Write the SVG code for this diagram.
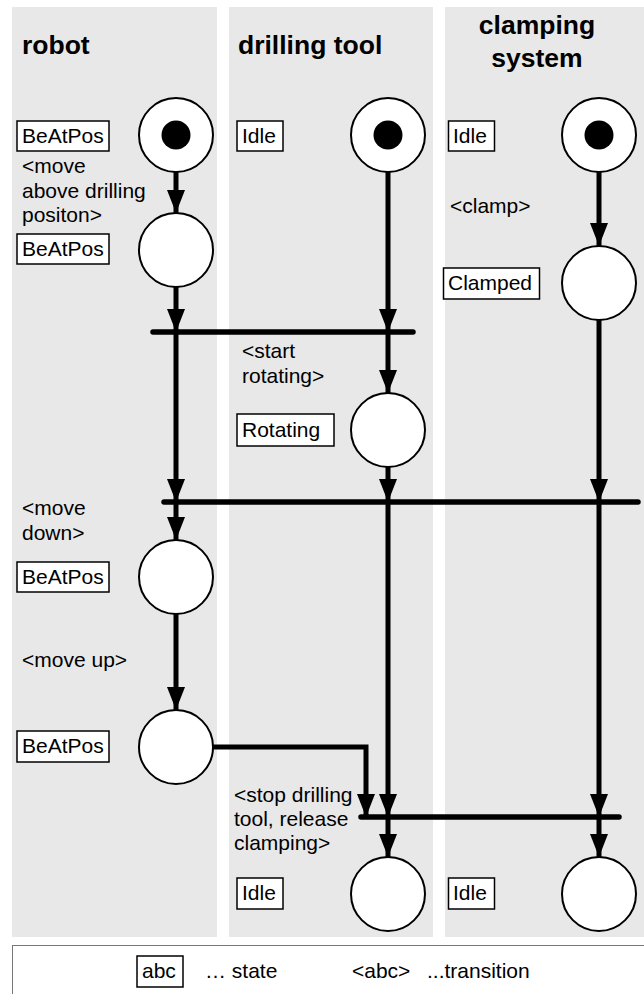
<svg xmlns="http://www.w3.org/2000/svg" width="644" height="994" viewBox="0 0 644 994">
  <style>
    .lane { fill: #e8e8e8; }
    .title { font-family: "Liberation Sans", Arial, sans-serif; font-weight: bold; font-size: 26.5px; fill: #000; }
    .lbl { font-family: "Liberation Sans", Arial, sans-serif; font-size: 21px; fill: #000; }
    .state { fill: #fff; stroke: #000; stroke-width: 1.5; }
    .place { fill: #fff; stroke: #000; stroke-width: 2; }
    .token { fill: #000; }
    .arc { fill: none; stroke: #000; stroke-width: 5; marker-end: url(#head); }
    .bar { stroke: #000; stroke-width: 5.5; stroke-linecap: round; }
  </style>
  <defs>
    <marker id="head" markerUnits="userSpaceOnUse" markerWidth="18" markerHeight="23" refX="9" refY="23" orient="0" viewBox="0 0 18 23">
      <path d="M0,0 L18,0 L9,23 Z" fill="#000"/>
    </marker>
  </defs>

  <rect width="644" height="994" fill="#fff"/>

  <!-- swim lanes -->
  <g id="lanes">
    <rect class="lane" x="12" y="7" width="205" height="930"/>
    <rect class="lane" x="229" y="7" width="204" height="930"/>
    <rect class="lane" x="445" y="7" width="199" height="930"/>
    <text class="title" x="22" y="54">robot</text>
    <text class="title" x="238" y="54">drilling tool</text>
    <text class="title" x="537" y="34" text-anchor="middle">clamping</text>
    <text class="title" x="537" y="67" text-anchor="middle">system</text>
  </g>

  <!-- connectors and synchronisation bars -->
  <g id="connectors">
    <line class="bar" x1="153" y1="332" x2="413" y2="332"/>
    <line class="bar" x1="164" y1="502" x2="638" y2="502"/>
    <line class="bar" x1="361" y1="817" x2="619" y2="817"/>

    <path class="arc" d="M176,172 V213"/>
    <path class="arc" d="M176,287 V332"/>
    <path class="arc" d="M388,172 V332"/>
    <path class="arc" d="M599,172 V246"/>
    <path class="arc" d="M176,332 V502"/>
    <path class="arc" d="M388,332 V393"/>
    <path class="arc" d="M388,467 V502"/>
    <path class="arc" d="M599,320 V502"/>
    <path class="arc" d="M176,502 V540"/>
    <path class="arc" d="M176,614 V710"/>
    <path class="arc" d="M388,502 V817"/>
    <path class="arc" d="M599,502 V817"/>
    <path class="arc" d="M213,747 H366 V817"/>
    <path class="arc" d="M388,817 V857"/>
    <path class="arc" d="M599,817 V857"/>
  </g>

  <!-- robot -->
  <g id="robot-start">
    <circle class="place" cx="176" cy="135" r="37"/>
    <circle class="token" cx="176" cy="135" r="14.5"/>
    <rect class="state" x="17" y="121" width="92" height="30"/>
    <text class="lbl" x="22" y="143">BeAtPos</text>
  </g>
  <g id="robot-above">
    <text class="lbl" x="22" y="173">&lt;move</text>
    <text class="lbl" x="22" y="198">above drilling</text>
    <text class="lbl" x="22" y="222">positon&gt;</text>
    <circle class="place" cx="176" cy="250" r="37"/>
    <rect class="state" x="17" y="234" width="92" height="30"/>
    <text class="lbl" x="22" y="256">BeAtPos</text>
  </g>
  <g id="robot-down">
    <text class="lbl" x="22" y="515">&lt;move</text>
    <text class="lbl" x="22" y="540">down&gt;</text>
    <circle class="place" cx="176" cy="577" r="37"/>
    <rect class="state" x="17" y="562" width="92" height="30"/>
    <text class="lbl" x="22" y="584">BeAtPos</text>
  </g>
  <g id="robot-up">
    <text class="lbl" x="22" y="667">&lt;move up&gt;</text>
    <circle class="place" cx="176" cy="747" r="37"/>
    <rect class="state" x="17" y="731" width="92" height="31"/>
    <text class="lbl" x="22" y="753">BeAtPos</text>
  </g>

  <!-- drilling tool -->
  <g id="drill-idle">
    <circle class="place" cx="388" cy="135" r="37"/>
    <circle class="token" cx="388" cy="135" r="14.5"/>
    <rect class="state" x="237" y="121" width="46" height="30"/>
    <text class="lbl" x="242" y="143">Idle</text>
  </g>
  <g id="drill-rotating">
    <text class="lbl" x="242" y="358">&lt;start</text>
    <text class="lbl" x="242" y="383">rotating&gt;</text>
    <circle class="place" cx="388" cy="430" r="37"/>
    <rect class="state" x="237" y="414" width="97" height="32"/>
    <text class="lbl" x="242" y="437">Rotating</text>
  </g>
  <g id="drill-stop">
    <text class="lbl" x="234" y="802">&lt;stop drilling</text>
    <text class="lbl" x="234" y="826">tool, release</text>
    <text class="lbl" x="234" y="850">clamping&gt;</text>
    <circle class="place" cx="388" cy="894" r="37"/>
    <rect class="state" x="237" y="878" width="46" height="31"/>
    <text class="lbl" x="242" y="900">Idle</text>
  </g>

  <!-- clamping system -->
  <g id="clamp-idle">
    <circle class="place" cx="599" cy="135" r="37"/>
    <circle class="token" cx="599" cy="135" r="14.5"/>
    <rect class="state" x="448.5" y="121" width="46" height="30"/>
    <text class="lbl" x="453" y="143">Idle</text>
  </g>
  <g id="clamp-clamped">
    <text class="lbl" x="450" y="213">&lt;clamp&gt;</text>
    <circle class="place" cx="599" cy="283" r="37"/>
    <rect class="state" x="443.5" y="268" width="96" height="31"/>
    <text class="lbl" x="448" y="290">Clamped</text>
  </g>
  <g id="clamp-released">
    <circle class="place" cx="599" cy="894" r="37"/>
    <rect class="state" x="448.5" y="878" width="46" height="31"/>
    <text class="lbl" x="453" y="900">Idle</text>
  </g>

  <!-- legend -->
  <g id="legend">
    <rect x="12.5" y="945.5" width="640" height="60" fill="#fff" stroke="#777" stroke-width="1"/>
    <rect class="state" x="137" y="956" width="46" height="31"/>
    <text class="lbl" x="142" y="978">abc</text>
    <text class="lbl" x="205" y="978">… state</text>
    <text class="lbl" x="352" y="978">&lt;abc&gt;</text>
    <text class="lbl" x="427" y="978">...transition</text>
  </g>
</svg>
